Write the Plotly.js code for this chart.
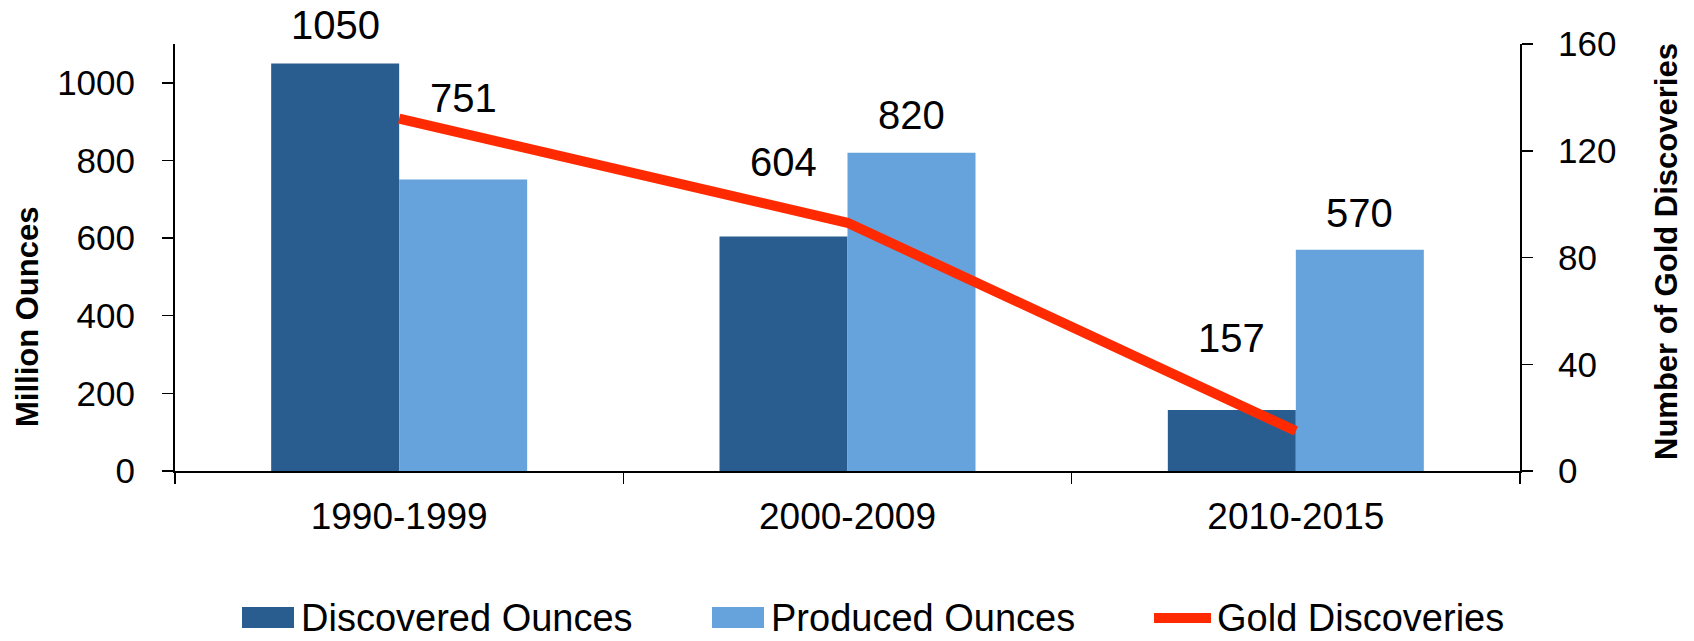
<!DOCTYPE html>
<html>
<head>
<meta charset="utf-8">
<script src="https://cdn.plot.ly/plotly-3.0.1.min.js"></script>
<style>html,body{margin:0;padding:0;background:#fff;}#chart{width:1694px;height:641px;}</style>
</head>
<body>
<div id="chart"></div>
<script>
// ---- data ----
var categories = ["1990-1999", "2000-2009", "2010-2015"];
var discoveredOunces = [1050, 604, 157];
var producedOunces = [751, 820, 570];
var goldDiscoveries = [132, 93, 15];
var seriesNames = ["Discovered Ounces", "Produced Ounces", "Gold Discoveries"];
var leftTicks = [0, 200, 400, 600, 800, 1000];
var rightTicks = [0, 40, 80, 120, 160];

// ---- style ----
var FONT = '"Liberation Sans", Arial, Helvetica, sans-serif';
var DARK = '#2A5D8F', LIGHT = '#66A2DC', RED = '#FF2A00';
var W = 1694, H = 641;
var M = {l: 175, r: 174, t: 44, b: 170};
var plotW = W - M.l - M.r, plotH = H - M.t - M.b;
function px(x) { return (x - M.l) / plotW; }
function py(y) { return (H - M.b - y) / plotH; }
var barW = 128 / (plotW / 3);           // bar width in category units
var darkLift = [38, 75, 72];             // label lift in px above bar top
var lightLift = [81, 38, 37];

var traces = [
  {type: 'bar', x: categories, y: discoveredOunces, name: seriesNames[0],
   marker: {color: DARK}, width: barW, offset: -barW, yaxis: 'y', hoverinfo: 'x+y'},
  {type: 'bar', x: categories, y: producedOunces, name: seriesNames[1],
   marker: {color: LIGHT}, width: barW, offset: 0, yaxis: 'y', hoverinfo: 'x+y'},
  {type: 'scatter', mode: 'lines', x: categories, y: goldDiscoveries, name: seriesNames[2],
   line: {color: RED, width: 10}, yaxis: 'y2'}
];

var annotations = [];
var halfPx = 64;
categories.forEach(function (c, i) {
  annotations.push({x: c, y: discoveredOunces[i], xref: 'x', yref: 'y', text: String(discoveredOunces[i]),
    showarrow: false, xshift: -halfPx, yshift: darkLift[i], yanchor: 'middle', xanchor: 'center',
    font: {family: FONT, size: 40, color: '#000'}});
  annotations.push({x: c, y: producedOunces[i], xref: 'x', yref: 'y', text: String(producedOunces[i]),
    showarrow: false, xshift: halfPx, yshift: lightLift[i], yanchor: 'middle', xanchor: 'center',
    font: {family: FONT, size: 40, color: '#000'}});
});
// axis titles
annotations.push({xref: 'paper', yref: 'paper', x: px(27), y: py(317), text: '<b>Million Ounces</b>',
  textangle: -90, showarrow: false, xanchor: 'center', yanchor: 'middle',
  font: {family: FONT, size: 31, color: '#000'}});
annotations.push({xref: 'paper', yref: 'paper', x: px(1666), y: py(252), text: '<b>Number of Gold Discoveries</b>',
  textangle: -90, showarrow: false, xanchor: 'center', yanchor: 'middle',
  font: {family: FONT, size: 31, color: '#000'}});

// custom legend
var legendTextX = [299, 769, 1215];
var legendY = 618;
var shapes = [
  {type: 'rect', xref: 'paper', yref: 'paper', x0: px(242), x1: px(294), y0: py(628), y1: py(607),
   fillcolor: DARK, line: {width: 0}},
  {type: 'rect', xref: 'paper', yref: 'paper', x0: px(712), x1: px(764), y0: py(628), y1: py(607),
   fillcolor: LIGHT, line: {width: 0}},
  {type: 'line', xref: 'paper', yref: 'paper', x0: px(1154), x1: px(1211), y0: py(618), y1: py(618),
   line: {color: RED, width: 10}}
];
seriesNames.forEach(function (n, i) {
  annotations.push({xref: 'paper', yref: 'paper', x: px(legendTextX[i]), y: py(legendY), text: n,
    showarrow: false, xanchor: 'left', yanchor: 'middle',
    font: {family: FONT, size: 38, color: '#000'}});
});

var layout = {
  width: W, height: H,
  margin: M,
  paper_bgcolor: '#fff', plot_bgcolor: '#fff',
  showlegend: false,
  barmode: 'group',
  font: {family: FONT, color: '#000'},
  xaxis: {type: 'category', range: [-0.5, 2.5], tickson: 'boundaries', ticks: 'outside',
    ticklen: 11, tickwidth: 1.5, tickcolor: '#000', showline: true, linecolor: '#000', linewidth: 2,
    showgrid: false, zeroline: false, tickfont: {family: FONT, size: 37, color: '#000'},
    ticklabelstandoff: 12, fixedrange: true},
  yaxis: {range: [0, 1100], tickvals: leftTicks, ticktext: leftTicks.map(String), ticks: 'outside',
    ticklen: 11, tickwidth: 1.5, tickcolor: '#000', showline: true, linecolor: '#000', linewidth: 2,
    showgrid: false, zeroline: false, tickfont: {family: FONT, size: 35, color: '#000'},
    ticklabelstandoff: 20},
  yaxis2: {range: [0, 160], tickvals: rightTicks, ticktext: rightTicks.map(String), overlaying: 'y', side: 'right',
    ticks: 'outside', ticklen: 11, tickwidth: 1.5, tickcolor: '#000', showline: true, linecolor: '#000',
    linewidth: 2, showgrid: false, zeroline: false, tickfont: {family: FONT, size: 35, color: '#000'},
    ticklabelstandoff: 18},
  annotations: annotations,
  shapes: shapes
};

Plotly.newPlot('chart', traces, layout, {displayModeBar: false, staticPlot: true});
</script>
</body>
</html>
